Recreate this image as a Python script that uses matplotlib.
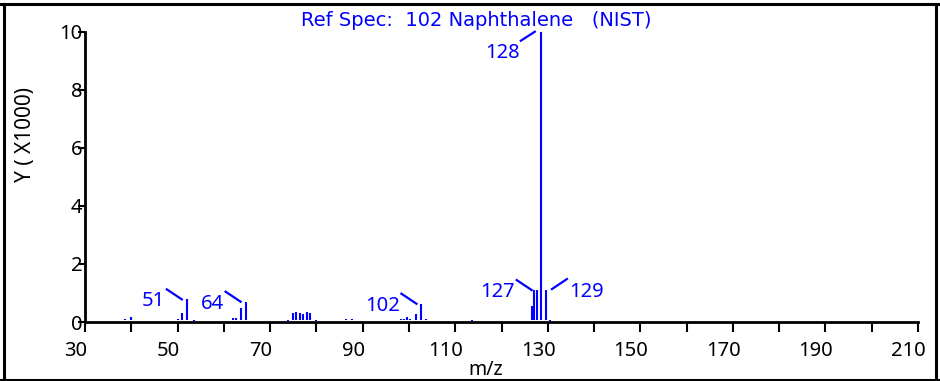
import matplotlib
matplotlib.use("Agg")
import matplotlib.pyplot as plt
from matplotlib.lines import Line2D
from matplotlib.transforms import ScaledTranslation, IdentityTransform

# peaks: position on the m/z axis, height in thousands
mz = [38.1, 38.6, 39.9,
      50.0, 50.9, 52.0, 52.7, 53.5,
      62.0, 62.7, 63.8, 64.7, 66.0,
      73.9, 74.9, 75.6, 76.4, 77.1, 77.9, 78.7, 80.0,
      85.7, 86.5, 87.1, 87.8, 88.5,
      97.7, 98.3, 98.9, 99.5, 100.2, 101.5, 102.7, 103.6,
      113.7,
      125.4, 126.5, 127.0, 127.6, 128.5, 129.6, 130.4]
inten = [0.07, 0.10, 0.18,
         0.09, 0.32, 0.78, 0.08, 0.05,
         0.13, 0.15, 0.49, 0.70, 0.06,
         0.05, 0.30, 0.36, 0.32, 0.28, 0.36, 0.30, 0.03,
         0.07, 0.09, 0.06, 0.09, 0.06,
         0.07, 0.09, 0.11, 0.18, 0.11, 0.27, 0.63, 0.09,
         0.03,
         0.06, 0.55, 1.10, 1.10, 10.0, 1.10, 0.05]

# labelled peaks
label_text = ["51", "64", "102", "127", "128", "129"]
label_at = [52.0, 64.7, 102.7, 127.6, 128.5, 129.6]
label_side = ["left", "left", "left", "left", "below", "right"]

xticks_major = [30, 50, 70, 90, 110, 130, 150, 170, 190, 210]
xticks_minor = [40, 60, 80, 100, 120, 140, 160, 180, 200]
yticks = [0, 2, 4, 6, 8, 10]

title = "Ref Spec:  102 Naphthalene   (NIST)"

W, H = 940, 381
BLUE = "#0000ff"
FONT = ["Noto Sans", "DejaVu Sans"]
plt.rcParams["font.family"] = FONT

fig = plt.figure(figsize=(W / 100, H / 100), dpi=100)
ax = fig.add_axes([85 / W, (H - 322) / H, (918 - 85) / W, (322 - 31.7) / H])

ax.vlines(mz, 0.06, inten, color=BLUE, lw=1.5)

ax.set_xlim(30, 210)
ax.set_ylim(0, 10)
ax.set_xticks(xticks_major)
ax.set_xticks(xticks_minor, minor=True)
ax.set_yticks(yticks)
ax.set_yticklabels([str(v) for v in yticks])

for s in ["top", "right"]:
    ax.spines[s].set_visible(False)
for s in ["left", "bottom"]:
    ax.spines[s].set_linewidth(2)

ax.tick_params(axis="x", which="both", direction="out", length=7.5, width=1.5,
               labelsize=14.5, pad=6)
ax.tick_params(axis="y", direction="out", length=5, width=1.5,
               labelsize=14.5, pad=-3)
shift = ScaledTranslation(-9.5 / 100, 0, fig.dpi_scale_trans)
for lbl in ax.get_xticklabels():
    lbl.set_transform(lbl.get_transform() + shift)

# peak labels with leader lines (offsets in pixels)
styles = {
    "left": dict(text=(-22, -2), ha="right", line=((-20, 10), (-5, 0))),
    "below": dict(text=(-21, -21), ha="right", line=((-20, -9), (-6, 0))),
    "right": dict(text=(23, -2), ha="left", line=((6, 1), (21, 11))),
}
for txt, pos, side in zip(label_text, label_at, label_side):
    h = inten[mz.index(pos)]
    st = styles[side]
    px, py = ax.transData.transform((pos, h))
    (x0, y0), (x1, y1) = st["line"]
    fig.add_artist(Line2D([px + x0, px + x1], [py + y0, py + y1],
                          transform=IdentityTransform(), color=BLUE, lw=1.6))
    ax.annotate(txt, xy=(pos, h), xytext=st["text"], textcoords="offset pixels",
                ha=st["ha"], va="center", color=BLUE, fontsize=14.5)

fig.text(476 / W, 1 - 20 / H, title, color=BLUE, ha="center", va="center",
         fontsize=14, family=["Liberation Sans Narrow", "DejaVu Sans"])
fig.text(25 / W, 1 - 134 / H, "Y ( X1000)", rotation=90, ha="center",
         va="center", fontsize=15)
fig.text(486 / W, 1 / H, "m/z", ha="center", va="bottom", fontsize=14)

# outer frame
for xs, ys in [([0, W], [H - 4, H - 4]), ([0, W], [1.5, 1.5]),
               ([4, 4], [0, H - 4]), ([936, 936], [0, H - 4])]:
    fig.add_artist(Line2D([x / W for x in xs], [y / H for y in ys],
                          transform=fig.transFigure, color="black", lw=2.2))

fig.savefig("out.png", dpi=100)
